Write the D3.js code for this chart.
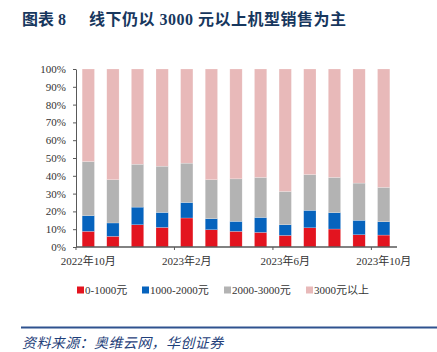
<!DOCTYPE html>
<html>
<head>
<meta charset="utf-8">
<script src="https://cdn.jsdelivr.net/npm/d3@7"></script>
<style>
  body { margin: 0; background: #fff; }
  svg { display: block; }
</style>
</head>
<body>
<div id="chart"></div>
<script>
// months Oct 2022 .. Oct 2023
var months = ["2022年10月", "2022年11月", "2022年12月", "2023年1月", "2023年2月", "2023年3月",
  "2023年4月", "2023年5月", "2023年6月", "2023年7月", "2023年8月", "2023年9月", "2023年10月"];
var tickMonths = ["2022年10月", "2023年2月", "2023年6月", "2023年10月"];
var seriesNames = ["0-1000元", "1000-2000元", "2000-3000元", "3000元以上"];
var seriesColors = ["#e3141f", "#0663bd", "#b3b3b3", "#e8b9b9"];

var low = [8.8, 6.0, 12.5, 11.0, 16.3, 9.7, 8.8, 8.2, 6.5, 10.8, 10.1, 6.9, 6.7];
var mid = [8.8, 7.5, 9.9, 8.4, 8.7, 6.2, 5.6, 8.4, 6.0, 9.8, 9.2, 8.1, 7.5];
var upper = [30.4, 24.3, 24.1, 26.0, 22.1, 21.9, 23.9, 22.5, 18.7, 20.1, 19.8, 20.9, 19.3];
var high = [52.0, 62.2, 53.5, 54.6, 52.9, 62.2, 61.7, 60.9, 68.8, 59.3, 60.9, 64.1, 66.5];

var W = 437, H = 352;
var margin = {left: 76, right: 41, top: 69, bottom: 105};

var rows = months.map(function(m, i) {
  return {month: m, s0: low[i], s1: mid[i], s2: upper[i], s3: high[i]};
});

var svg = d3.select("#chart").append("svg")
  .attr("width", W)
  .attr("height", H)
  .style("font-family", "'Liberation Serif', 'Noto Sans CJK SC', serif");

// title, two pieces so the gap after the number stays
var titleFont = "'Liberation Serif', 'Noto Sans CJK SC', serif";
svg.append("text")
  .attr("x", 22).attr("y", 25)
  .attr("fill", "#17375e")
  .attr("font-size", 16)
  .attr("font-weight", "bold")
  .attr("font-family", titleFont)
  .text("图表 8")
svg.append("text")
  .attr("x", 89).attr("y", 25)
  .attr("fill", "#17375e")
  .attr("font-size", 16)
  .attr("font-weight", "bold")
  .attr("letter-spacing", 0.5)
  .attr("font-family", titleFont)
  .text("线下仍以 3000 元以上机型销售为主")

var x = d3.scaleBand()
  .domain(months)
  .range([margin.left, W - margin.right])
  .paddingInner(0.5)
  .paddingOuter(0.25);

var y = d3.scaleLinear()
  .domain([0, 100])
  .range([H - margin.bottom, margin.top]);

var stack = d3.stack().keys(["s0", "s1", "s2", "s3"]);
var layers = stack(rows);

svg.append("g")
  .selectAll("g")
  .data(layers)
  .join("g")
  .attr("fill", function(d, i) { return seriesColors[i]; })
  .selectAll("rect")
  .data(function(d) { return d; })
  .join("rect")
  .attr("x", function(d) { return x(d.data.month); })
  .attr("width", x.bandwidth())
  .attr("y", function(d) { return y(Math.min(d[1], 100)); })
  .attr("height", function(d) { return y(d[0]) - y(Math.min(d[1], 100)); })
  .attr("stroke", "#fff")
  .attr("stroke-opacity", 0.4)
  .attr("stroke-width", 0.5);

// y axis
var yAxis = svg.append("g")
  .attr("transform", "translate(" + margin.left + ",0)")
  .call(d3.axisLeft(y).tickValues(d3.range(0, 101, 10))
    .tickFormat(function(d) { return d + "%"; })
    .tickSize(3).tickSizeOuter(0));
yAxis.select(".domain").attr("stroke", "#595959");
yAxis.selectAll(".tick line").attr("stroke", "#595959");
yAxis.selectAll("text")
  .attr("font-size", 11)
  .attr("fill", "#333")
  .attr("font-family", "'Liberation Serif', serif")
  .attr("x", -10);

// x axis
var step = x.step();
var x0 = margin.left;
var xAxis = svg.append("g")
  .attr("transform", "translate(0," + (H - margin.bottom) + ")");
xAxis.append("line")
  .attr("x1", x0).attr("x2", W - margin.right + 1)
  .attr("stroke", "#595959").attr("stroke-width", 1.5);
xAxis.selectAll(".xtick")
  .data([0, 4, 8, 12])
  .join("line")
  .attr("class", "xtick")
  .attr("x1", function(d) { return x0 + d * step; })
  .attr("x2", function(d) { return x0 + d * step; })
  .attr("y1", 0).attr("y2", 3)
  .attr("stroke", "#595959");
xAxis.selectAll(".xlabel")
  .data(tickMonths)
  .join("text")
  .attr("class", "xlabel")
  .attr("x", function(d) { return x(d) + x.bandwidth() / 2; })
  .attr("y", 18)
  .attr("text-anchor", "middle")
  .attr("font-size", 11)
  .attr("fill", "#333")
  .text(function(d) { return d; });

// legend
var legendX = [77, 142, 224, 306];
var legend = svg.append("g").attr("transform", "translate(0,290)");
var item = legend.selectAll("g")
  .data(seriesNames)
  .join("g")
  .attr("transform", function(d, i) { return "translate(" + legendX[i] + ",0)"; });
item.append("rect")
  .attr("x", 0).attr("y", -3.5)
  .attr("width", 7).attr("height", 7)
  .attr("fill", function(d, i) { return seriesColors[i]; });
item.append("text")
  .attr("x", 8)
  .attr("y", 4)
  .attr("font-size", 11)
  .attr("fill", "#333")
  .text(function(d) { return d; });

// source line
svg.append("line")
  .attr("x1", 21).attr("x2", W)
  .attr("y1", 327.5).attr("y2", 327.5)
  .attr("stroke", "#2f528f").attr("stroke-width", 2);
svg.append("text")
  .attr("x", 22)
  .attr("y", 348)
  .attr("font-size", 14)
  .attr("font-style", "italic")
  .attr("letter-spacing", 0.4)
  .attr("fill", "#1f3f7a")
  .attr("font-family", "'Noto Sans CJK SC', sans-serif")
  .text("资料来源：奥维云网，华创证券");
</script>
</body>
</html>
